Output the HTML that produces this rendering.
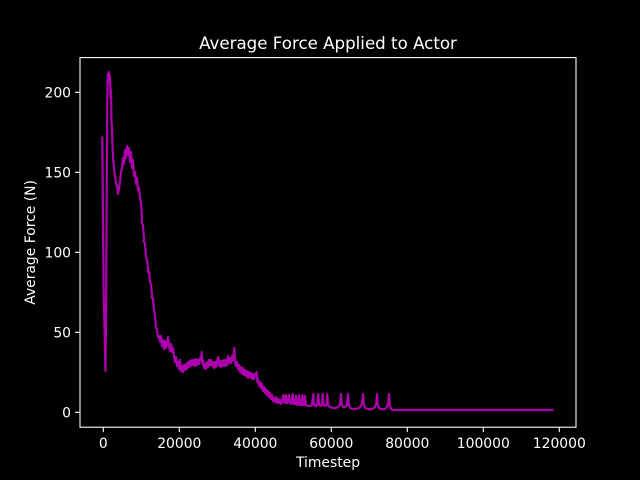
<!DOCTYPE html>
<html><head><meta charset="utf-8"><style>
html,body{margin:0;padding:0;background:#000;}
svg{display:block;}
text{font-family:"DejaVu Sans","Liberation Sans",sans-serif;fill:#fff;}
</style></head><body>
<svg width="640" height="480" viewBox="0 0 640 480" xmlns="http://www.w3.org/2000/svg">
<rect width="640" height="480" fill="#000"/>
<path fill="none" stroke="#ad00ad" stroke-width="2.2" stroke-linejoin="round" d="M102.3,136.5 L102.8,200 L103.6,290 L105.5,371 L106.2,300 L106.8,180 L107.3,100 L107.8,74 L108.5,82 L109,72 L109.7,78 L110,76 L110.5,98 L111,90 L111.5,122 L112,128 L112.7,150 L113.3,160 L114,168 L115,176 L116,183 L117,186 L118,194 L119,188 L120,182 L121,172 L122,168 L123,158 L124,164 L125,150 L126,158 L127,146 L128,155 L129,148 L130,162 L131,152 L132,168 L133,160 L134,176 L135,172 L136,184 L137,178 L138,190 L139,188 L140,198 L141,203 L142,217 L141.8,222 L143,226 L144,238 L143.8,242 L145,243 L146,257 L147,260 L148,268 L147.8,272 L149,271 L150,282 L151,284 L152,295 L151.8,298 L153,298 L154,310 L155,316 L156,328 L157,329 L158,337 L159,336 L160,342 L161,336 L162,346 L163,340 L164,349 L165,341 L166,348 L167,343 L168,337 L169,346 L170,351 L171,344 L172,352 L173,348 L174,356 L175,362 L176,357 L177,366 L178,362 L179,369 L180,360 L181,371 L182,366 L183,372 L184,365 L185,370 L186,364 L187,369 L188,362 L189,367 L190,361 L191,366 L192,360 L193,365 L194,360 L195,366 L196,359 L197,365 L198,360 L199,364 L200,358 L201,360 L201.7,352 L202.5,364 L203,360 L204,368 L205,364 L206,369 L207,362 L208,367 L209,360 L210,365 L211,360 L212,366 L213,362 L214,368 L215,362 L216,367 L217,361 L218.3,357 L219,366 L220,361 L221,367 L222,361 L223,366 L224,360 L225,366 L226,360 L227,365 L228,356 L229,363 L230,358 L231,363 L232,356 L233,360 L234.3,348 L235,362 L236,366 L237,362 L238,369 L239,365 L240,372 L241,367 L242,374 L243,368 L244,375 L245,370 L246,376 L247,371 L248,378 L249,372 L250,377 L251,373 L252,379 L253,374 L254,379 L255,375 L256.7,372 L257.5,382 L258,379 L259,386 L260,382 L261,388 L262,384 L263,391 L264,387 L265,393 L266,389 L267,395 L268,391 L269,397 L270,393 L271,399 L272,395 L273,401 L274,398 L275,402 L276,397 L277,403 L278,399 L279,403 L280,400 L281,404 L282,401 L283.3,395 L284,402 L285,403 L286,395 L287,403 L288,402 L289,395 L290,403 L291,404 L292.7,394 L293.5,404 L295,404 L296,396 L297,405 L298,404 L299,395 L300,405 L301,405 L302.3,395 L303,405 L304,405 L305,396 L306,405 L308,406 L310,406 L312,405 L313.3,394 L314,405 L316,406 L317,405 L318.3,394 L319,405 L321,406 L322,405 L322.7,394 L323.5,405 L325,406 L326.5,405 L327.3,394 L328,405 L330,407 L333,408 L336,408 L338,407 L340,405 L341,394 L341.7,404 L343,407 L345,407 L347,405 L348,394 L348.8,405 L350,408 L353,409 L356,409 L359,408 L361,406 L362,403 L363,394 L363.7,404 L365,408 L368,409 L371,409.5 L374,408 L376,405 L377,394 L377.7,404 L379,408 L382,409.5 L385,409 L387,407 L388.2,403 L389,394 L389.7,405 L391,409 L393,410 L553.5,410"/>
<g stroke="#fff" stroke-width="1.1" fill="none">
<rect x="80" y="57.6" width="496" height="369.6"/>
<path d="M103.3,427.2v4.9 M179.3,427.2v4.9 M255.3,427.2v4.9 M331.3,427.2v4.9 M407.3,427.2v4.9 M483.3,427.2v4.9 M559.3,427.2v4.9"/>
<path d="M80,412.3h-4.9 M80,332.3h-4.9 M80,252.3h-4.9 M80,172.3h-4.9 M80,92.3h-4.9"/>
</g>
<g font-size="13.9" text-anchor="middle">
<text x="103.3" y="448">0</text>
<text x="179.3" y="448">20000</text>
<text x="255.3" y="448">40000</text>
<text x="331.3" y="448">60000</text>
<text x="407.3" y="448">80000</text>
<text x="483.3" y="448">100000</text>
<text x="559.3" y="448">120000</text>
</g>
<g font-size="13.9" text-anchor="end">
<text x="71" y="417.4">0</text>
<text x="71" y="337.4">50</text>
<text x="71" y="257.4">100</text>
<text x="71" y="177.4">150</text>
<text x="71" y="97.4">200</text>
</g>
<text x="328" y="467" font-size="13.9" text-anchor="middle">Timestep</text>
<text transform="translate(35,242.4) rotate(-90)" font-size="13.9" text-anchor="middle">Average Force (N)</text>
<text x="328" y="49" font-size="16.67" text-anchor="middle">Average Force Applied to Actor</text>
</svg>
</body></html>
